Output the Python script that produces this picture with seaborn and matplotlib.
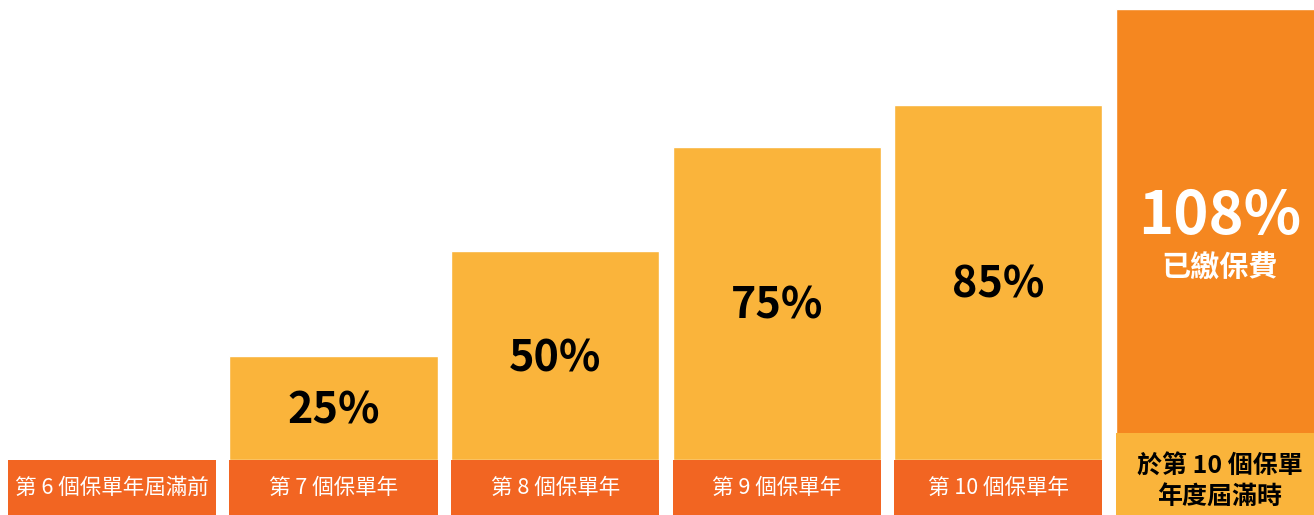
import matplotlib
matplotlib.use('Agg')
import matplotlib.pyplot as plt
import seaborn as sns
import pandas as pd

# data
labels = ['第 6 個保單年屆滿前', '第 7 個保單年', '第 8 個保單年', '第 9 個保單年', '第 10 個保單年', '於第 10 個保單\n年度屆滿時']
values = [0, 25, 50, 75, 85, 108]
value_text = ['', '25%', '50%', '75%', '85%', '108%']
final_note = '已繳保費'

yellow = '#FAB43B'
red = '#F26522'
orange = '#F58720'

sns.set_theme(style='white')
plt.rcParams['font.family'] = ['Noto Sans CJK TC', 'DejaVu Sans']

df = pd.DataFrame({'label': labels, 'value': values})
bar_colors = [yellow] * 5 + [orange]

fig = plt.figure(figsize=(13.14, 5.15), dpi=100)
ax = fig.add_axes([0, 0, 1, 1])

sns.barplot(data=df, x='label', y='value', hue='label', palette=bar_colors,
            width=0.939, legend=False, ax=ax, saturation=1)

px = 4.18  # pixels per percent
band = 55 / px
ax.set_ylim(-band, 515 / px - band)
ax.set_xlim(-0.505, 5.424)

# label bands under bars
for i, lab in enumerate(labels):
    if i < 5:
        ax.bar(i, band, bottom=-band, width=0.939, color=red, linewidth=0)
        ax.text(i, -band / 2, lab, ha='center', va='center', color='white',
                fontsize=15.5, fontweight='light')
    else:
        top = (82 - 55) / px
        ax.bar(i, band + top, bottom=-band, width=0.939, color=yellow, linewidth=0)
        ax.text(i, (515 - 481.5) / px - band, lab, ha='center', va='center', color='black',
                fontsize=18, fontweight='bold', linespacing=1.35)

# value labels
for i, (v, t) in enumerate(zip(values, value_text)):
    if not t:
        continue
    if i < 5:
        ax.text(i, v / 2 - 0.6, t, ha='center', va='center', color='black',
                fontsize=31, fontweight='bold')
    else:
        ax.text(i, (515 - 217) / px - band, t, ha='center', va='center', color='white',
                fontsize=43, fontweight='bold')
        ax.text(i, (515 - 268) / px - band, final_note, ha='center', va='center',
                color='white', fontsize=21, fontweight='bold')

ax.axis('off')
fig.savefig('out.png', dpi=100)
